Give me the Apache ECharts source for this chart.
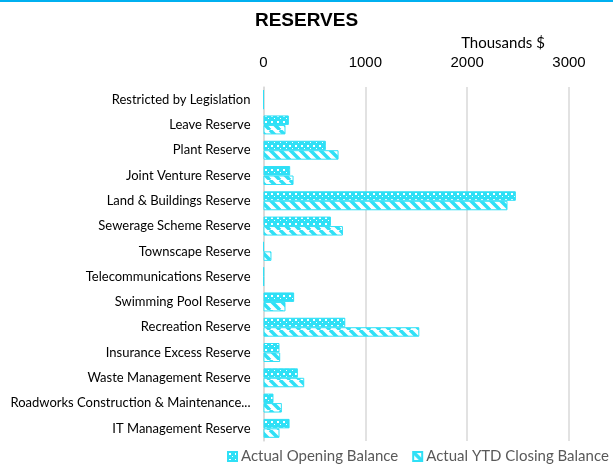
<!DOCTYPE html>
<html>
<head>
<meta charset="utf-8">
<script src="https://cdn.jsdelivr.net/npm/echarts@6/dist/echarts.min.js"></script>
<style>html,body{margin:0;padding:0;background:#fff;}#c{width:613px;height:470px;}</style>
</head>
<body>
<div id="c"></div>
<script>
const categories = [
  "Restricted by Legislation",
  "Leave Reserve",
  "Plant Reserve",
  "Joint Venture Reserve",
  "Land & Buildings Reserve",
  "Sewerage Scheme Reserve",
  "Townscape Reserve",
  "Telecommunications Reserve",
  "Swimming Pool Reserve",
  "Recreation Reserve",
  "Insurance Excess Reserve",
  "Waste Management Reserve",
  "Roadworks Construction & Maintenance...",
  "IT Management Reserve"
];
const openingBalance = [0, 249, 612, 262, 2478, 662, 0, 3, 301, 803, 157, 337, 98, 256];
const closingBalance = [0, 216, 737, 295, 2396, 780, 78, 3, 216, 1530, 164, 400, 180, 157];
const xTicks = [0, 1000, 2000, 3000];

const CYAN = '#2FE0F6';

function dotPattern() {
  const c = document.createElement('canvas');
  c.width = 6; c.height = 6;
  const g = c.getContext('2d');
  g.fillStyle = CYAN; g.fillRect(0, 0, 6, 6);
  g.fillStyle = '#ffffff';
  g.fillRect(1, 1, 2, 2);
  g.fillRect(4, 4, 1, 1);
  return c;
}
function stripePattern() {
  const c = document.createElement('canvas');
  c.width = 10; c.height = 10;
  const g = c.getContext('2d');
  g.fillStyle = '#ffffff'; g.fillRect(0, 0, 10, 10);
  g.strokeStyle = CYAN; g.lineWidth = 3.5;
  for (let k = -2; k <= 2; k++) {
    g.beginPath();
    g.moveTo(k * 10, 0);
    g.lineTo(k * 10 + 10, 10);
    g.stroke();
  }
  return c;
}

const chart = echarts.init(document.getElementById('c'), null, {renderer: 'canvas'});
chart.setOption({
  backgroundColor: '#ffffff',
  animation: false,
  title: {
    text: 'RESERVES',
    left: 'center',
    top: 6,
    textStyle: {fontFamily: 'Liberation Sans', fontWeight: 'bold', fontSize: 19, color: '#000'}
  },
  graphic: [
    {type: 'rect', shape: {x: 0, y: 0, width: 613, height: 2}, style: {fill: '#00B0F0'}},
    {type: 'text', x: 503, y: 43, style: {text: 'Thousands $', fontFamily: 'Lato', fontSize: 15, fill: '#000', align: 'center', verticalAlign: 'middle'}}
  ],
  legend: {
    bottom: 1,
    left: 222,
    width: 389,
    itemWidth: 9,
    itemHeight: 9,
    itemGap: 14,
    icon: 'rect',
    textStyle: {fontFamily: 'Lato', fontSize: 15, color: '#595959', padding: [0, 0, 0, -1]},
    data: ['Actual Opening Balance', 'Actual YTD Closing Balance']
  },
  grid: {left: 263.5, top: 87, width: 305.5, height: 354, containLabel: false},
  xAxis: {
    type: 'value',
    position: 'top',
    min: xTicks[0],
    max: xTicks[xTicks.length - 1],
    interval: 1000,
    axisLine: {show: false},
    axisTick: {show: false},
    axisLabel: {fontFamily: 'Liberation Sans', fontSize: 15, color: '#000', margin: 17, formatter: v => String(v)},
    splitLine: {show: true, lineStyle: {color: '#D9D9D9', width: 1.5}}
  },
  yAxis: {
    type: 'category',
    inverse: true,
    data: categories,
    axisLine: {show: true, lineStyle: {color: '#D9D9D9', width: 1.5}},
    axisTick: {show: false},
    axisLabel: {fontFamily: 'Lato', fontSize: 13, color: '#000', margin: 13}
  },
  series: [
    {
      name: 'Actual Opening Balance',
      type: 'bar',
      data: openingBalance,
      barGap: '0%',
      barCategoryGap: '25%',
      itemStyle: {color: {image: dotPattern(), repeat: 'repeat'}, borderColor: CYAN, borderWidth: 1}
    },
    {
      name: 'Actual YTD Closing Balance',
      type: 'bar',
      data: closingBalance,
      barGap: '0%',
      barCategoryGap: '25%',
      itemStyle: {color: {image: stripePattern(), repeat: 'repeat'}, borderColor: CYAN, borderWidth: 1}
    }
  ]
});
</script>
</body>
</html>
